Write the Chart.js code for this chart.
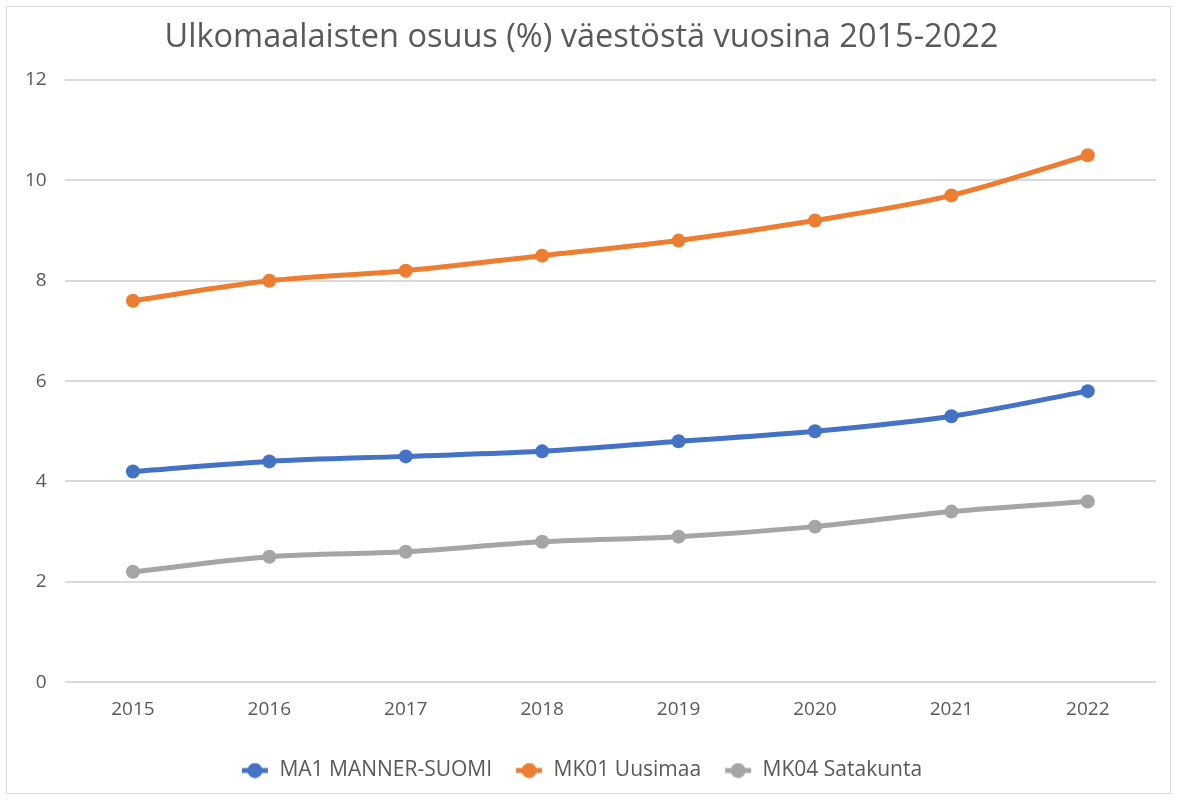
<!DOCTYPE html>
<html>
<head>
<meta charset="utf-8">
<script src="https://cdn.jsdelivr.net/npm/chart.js@4"></script>
<style>
    body { margin: 0; background: #fff; }
    #wrap {
        position: absolute; left: 6px; top: 6px;
        width: 1163px; height: 786px;
        border: 1px solid #d9d9d9;
    }
</style>
</head>
<body>
<div id="wrap"><canvas id="chart"></canvas></div>
<script>
const years = ['2015', '2016', '2017', '2018', '2019', '2020', '2021', '2022'];
const mannerSuomi = [4.2, 4.4, 4.5, 4.6, 4.8, 5.0, 5.3, 5.8];
const uusimaa = [7.6, 8.0, 8.2, 8.5, 8.8, 9.2, 9.7, 10.5];
const satakunta = [2.2, 2.5, 2.6, 2.8, 2.9, 3.1, 3.4, 3.6];

const seriesNames = ['MA1 MANNER-SUOMI', 'MK01 Uusimaa', 'MK04 Satakunta'];
const colors = ['#4472C4', '#ED7D31', '#A5A5A5'];

// legend marker: short line with a dot, like the spreadsheet legend
function legendIcon(color) {
    const c = document.createElement('canvas');
    c.width = 28; c.height = 16;
    const g = c.getContext('2d');
    g.strokeStyle = color;
    g.lineWidth = 5;
    g.beginPath(); g.moveTo(1, 8); g.lineTo(27, 8); g.stroke();
    g.fillStyle = color;
    g.beginPath(); g.arc(14, 8, 7.5, 0, Math.PI * 2); g.fill();
    return c;
}

const textColor = '#595959';
const font = "'Open Sans', sans-serif";

const datasets = [mannerSuomi, uusimaa, satakunta].map((data, i) => ({
    label: seriesNames[i],
    data: data,
    borderColor: colors[i],
    backgroundColor: colors[i],
    borderWidth: 5,
    pointRadius: 7,
    pointHoverRadius: 7,
    pointBackgroundColor: colors[i],
    pointBorderWidth: 0,
    tension: 0.3,
    cubicInterpolationMode: 'monotone'
}));

new Chart(document.getElementById('chart'), {
    type: 'line',
    data: { labels: years, datasets: datasets },
    options: {
        responsive: true,
        maintainAspectRatio: false,
        animation: false,
        layout: { padding: { left: 0, right: 14, top: 8, bottom: 2 } },
        plugins: {
            title: {
                display: true,
                text: 'Ulkomaalaisten osuus (%) väestöstä vuosina 2015-2022',
                color: textColor,
                font: { family: font, size: 32.5, weight: 'normal' },
                padding: { top: 3, bottom: 23 }
            },
            legend: {
                position: 'bottom',
                labels: {
                    color: textColor,
                    font: { family: font, size: 21 },
                    usePointStyle: true,
                    pointStyleWidth: 28,
                    padding: 23,
                    generateLabels: chart => chart.data.datasets.map((ds, i) => ({
                        text: ds.label,
                        fontColor: textColor,
                        pointStyle: legendIcon(colors[i]),
                        datasetIndex: i,
                        lineWidth: 0
                    }))
                }
            },
            tooltip: { enabled: false }
        },
        scales: {
            x: {
                offset: true,
                grid: { display: false, drawTicks: false },
                border: { display: false },
                ticks: { color: textColor, font: { family: font, size: 19 }, padding: 16 }
            },
            y: {
                min: 0,
                max: 12,
                grid: { color: '#d9d9d9', lineWidth: 2, drawTicks: false },
                border: { display: false },
                ticks: { stepSize: 2, color: textColor, font: { family: font, size: 19 }, padding: 18 }
            }
        }
    }
});
</script>
</body>
</html>
